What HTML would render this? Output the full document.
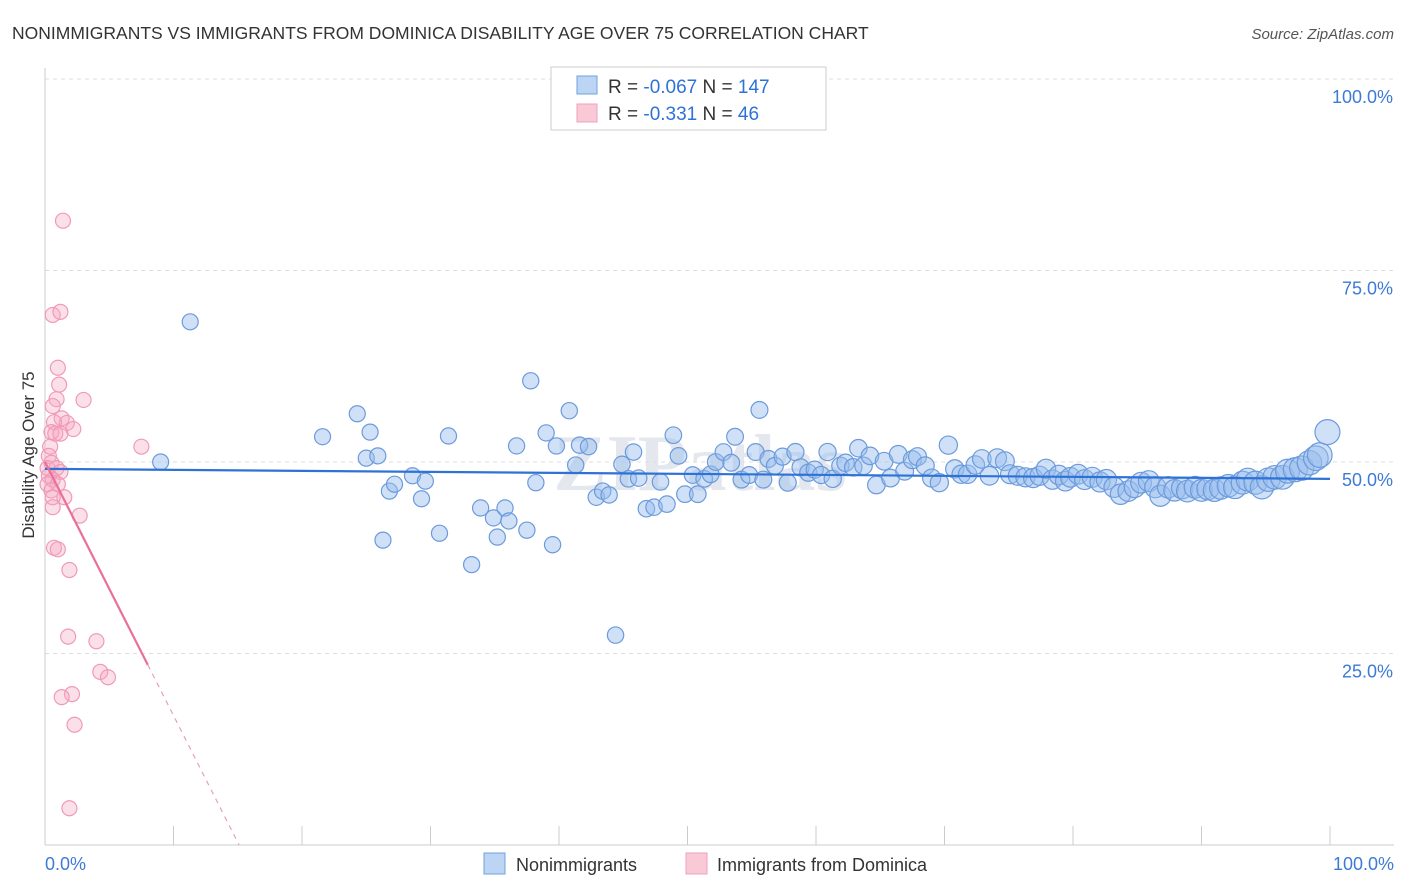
<!DOCTYPE html>
<html><head><meta charset="utf-8"><style>
body{margin:0;background:#fff;font-family:"Liberation Sans",sans-serif;}
svg{display:block}
</style></head><body>
<svg id="chart" width="1406" height="892" xmlns="http://www.w3.org/2000/svg" font-family="Liberation Sans, sans-serif">
<text x="12" y="39" font-size="17.5" fill="#333">NONIMMIGRANTS VS IMMIGRANTS FROM DOMINICA DISABILITY AGE OVER 75 CORRELATION CHART</text>
<text x="1394" y="39" font-size="15" fill="#555" text-anchor="end" font-style="italic">Source: ZipAtlas.com</text>
<text x="700" y="490" font-size="80" fill="#e4e8ee" text-anchor="middle" font-weight="bold" font-family="Liberation Serif, serif">ZIPatlas</text>
<text transform="translate(34,455) rotate(-90)" font-size="17" fill="#333" text-anchor="middle">Disability Age Over 75</text>
<g id="grid"></g>
<g id="ticks"></g>
<g id="points"></g>
<g id="trends"></g>
<g>
<rect x="551" y="67" width="275" height="63" fill="#fff" stroke="#ccc"/>
<rect x="577" y="76" width="20" height="18" fill="#bdd5f5" stroke="#6fa0e0"/>
<rect x="577" y="104" width="20" height="18" fill="#f9c9d8" stroke="#f0a0ba"/>
<text x="608" y="93" font-size="19" fill="#333">R = <tspan fill="#2f72d6">-0.067</tspan>   N = <tspan fill="#2f72d6">147</tspan></text>
<text x="608" y="120" font-size="19" fill="#333">R =  <tspan fill="#2f72d6">-0.331</tspan>   N =  <tspan fill="#2f72d6"> 46</tspan></text>
</g>
<g>
<rect x="484" y="853" width="21" height="21" fill="#bdd5f5" stroke="#6fa0e0"/>
<text x="516" y="871" font-size="18" fill="#333">Nonimmigrants</text>
<rect x="686" y="853" width="21" height="21" fill="#f9c9d8" stroke="#f0a0ba"/>
<text x="717" y="871" font-size="18" fill="#333">Immigrants from Dominica</text>
</g>
</svg>
<script>
const blueX=[9.0,11.3,21.6,24.3,25.3,25.0,25.9,26.3,26.8,27.2,28.6,29.3,29.6,30.7,31.4,33.2,33.9,34.9,35.2,35.8,36.1,36.7,37.5,37.8,38.2,39.0,39.5,39.8,40.8,41.3,41.6,42.3,42.9,43.4,43.9,44.4,44.9,45.4,45.8,46.2,46.8,47.4,47.9,48.4,48.9,49.3,49.8,50.4,50.8,51.3,51.8,52.2,52.8,53.4,53.7,54.2,54.8,55.3,55.6,55.9,56.3,56.8,57.4,57.8,58.4,58.8,59.4,59.9,60.4,60.9,61.3,61.9,62.3,62.9,63.3,63.7,64.2,64.7,65.3,65.8,66.4,66.9,67.5,67.9,68.5,69.0,69.6,70.3,70.8,71.3,71.8,72.4,72.9,73.5,74.1,74.7,75.1,75.7,76.3,76.9,77.4,77.9,78.4,78.9,79.4,79.8,80.4,80.9,81.5,82.1,82.6,83.2,83.7,84.3,84.8,85.3,85.9,86.4,86.8,87.4,87.9,88.5,88.9,89.5,90.0,90.5,91.0,91.5,92.1,92.6,93.2,93.6,94.2,94.7,95.2,95.7,96.3,96.7,97.3,97.8,98.4,98.9,99.2,99.8];
const blueY=[50.0,68.3,53.3,56.3,53.9,50.5,50.8,39.8,46.2,47.1,48.2,45.2,47.5,40.7,53.4,36.6,44.0,42.7,40.2,44.0,42.3,52.1,41.1,60.6,47.3,53.8,39.2,52.1,56.7,49.6,52.2,52.0,45.4,46.2,45.7,27.4,49.7,47.8,51.3,47.9,43.9,44.1,47.4,44.5,53.5,50.8,45.8,48.3,45.8,47.8,48.4,50.0,51.3,49.9,53.3,47.7,48.3,51.3,56.8,47.7,50.4,49.5,50.7,47.3,51.3,49.3,48.6,49.0,48.3,51.3,47.8,49.5,49.9,49.3,51.8,49.5,50.8,47.0,50.1,47.9,51.0,48.8,50.3,50.7,49.5,47.9,47.3,52.2,49.1,48.4,48.4,49.6,50.4,48.2,50.5,50.1,48.4,48.2,48.0,47.9,48.2,49.1,47.7,48.3,47.5,48.0,48.4,47.7,48.0,47.4,47.7,46.7,45.8,46.2,46.7,47.3,47.5,46.7,45.6,46.7,46.3,46.6,46.2,46.7,46.3,46.5,46.3,46.6,46.9,46.7,47.3,47.7,47.3,46.7,47.7,48.0,48.0,48.8,49.0,49.2,49.9,50.5,50.9,53.9];
const pinkX=[1.4,0.6,1.2,1.0,1.1,3.0,0.9,0.6,1.3,1.7,0.7,2.2,0.5,0.8,1.2,7.5,0.4,0.3,0.5,0.2,0.9,1.2,0.3,0.6,0.2,1.0,0.5,1.5,0.6,0.6,2.7,0.7,1.0,1.9,1.8,4.0,4.3,4.9,2.1,1.3,2.3,1.9];
const pinkY=[81.5,69.2,69.6,62.3,60.1,58.1,58.2,57.3,55.7,55.1,55.2,54.3,53.9,53.7,53.7,52.0,52.0,50.8,49.9,49.2,49.2,48.7,48.2,47.7,47.1,47.1,46.3,45.4,45.4,44.1,43.0,38.8,38.6,35.9,27.2,26.6,22.6,21.9,19.7,19.3,15.7,4.8];
const blueTrend=[49.1,47.8]; // y at x=0 and x=100
const pinkTrend=[50.0,-3.31]; // intercept, slope
const pinkSolidEnd=8.0;
const yTicks=[25,50,75,100];
const yTickLabels=["25.0%","50.0%","75.0%","100.0%"];
const xTicks=[0,10,20,30,40,50,60,70,80,90,100];

const NS="http://www.w3.org/2000/svg";
const X=v=>45+v*12.85, Y=v=>845-v*7.66;
function mk(tag,attrs,parent){const e=document.createElementNS(NS,tag);for(const k in attrs)e.setAttribute(k,attrs[k]);parent.appendChild(e);return e;}
const grid=document.getElementById('grid'),ticks=document.getElementById('ticks'),pts=document.getElementById('points'),tr=document.getElementById('trends');
yTicks.forEach((t,i)=>{
 const l=mk('line',{x1:45,x2:1394,y1:Y(t),y2:Y(t),stroke:'#ddd','stroke-dasharray':'4,4'},grid);
 
 
 const tx=mk('text',{x:1393,y:Y(t)+24,'font-size':18,fill:'#3d7ad6','text-anchor':'end'},ticks);
 tx.textContent=yTickLabels[i];
 
 
});
const ax=mk('line',{x1:45,x2:45,y1:68,y2:845,stroke:'#ccc'},ticks);


const bx=mk('line',{x1:45,x2:1394,y1:845,y2:845,stroke:'#ccc'},ticks);


xTicks.forEach(t=>{
 const l=mk('line',{x1:X(t),x2:X(t),y1:826,y2:845,stroke:'#ccc'},ticks);
 
 
});
const xl0=mk('text',{x:45,y:870,'font-size':18,fill:'#3d7ad6'},ticks);xl0.textContent='0.0%';


const xl1=mk('text',{x:1394,y:870,'font-size':18,fill:'#3d7ad6','text-anchor':'end'},ticks);xl1.textContent='100.0%';


pinkX.forEach((x,i)=>{
 const c=mk('circle',{cx:X(x),cy:Y(pinkY[i]),r:7.5,fill:'rgba(245,165,192,0.35)',stroke:'#f09ab8','stroke-width':1.2},pts);
 
 
});
blueX.forEach((x,i)=>{
 const r=8+4.5*Math.pow(x/100,4);
 const c=mk('circle',{cx:X(x),cy:Y(blueY[i]),r:r,fill:'rgba(150,188,238,0.45)',stroke:'#6b9bdc','stroke-width':1.2},pts);
 
 
});
const bl=mk('line',{x1:X(0),y1:Y(blueTrend[0]),x2:X(100),y2:Y(blueTrend[1]),stroke:'#2f72d6','stroke-width':2.2},tr);


const pe=pinkTrend[0]+pinkTrend[1]*pinkSolidEnd, zx=-pinkTrend[0]/pinkTrend[1];
const ps=mk('line',{x1:X(0),y1:Y(pinkTrend[0]),x2:X(pinkSolidEnd),y2:Y(pe),stroke:'#e8709a','stroke-width':2.2},tr);


const pd=mk('line',{x1:X(pinkSolidEnd),y1:Y(pe),x2:X(zx),y2:Y(0),stroke:'#e8a0b8','stroke-width':1.2,'stroke-dasharray':'5,5'},tr);


</script>
</body></html>
